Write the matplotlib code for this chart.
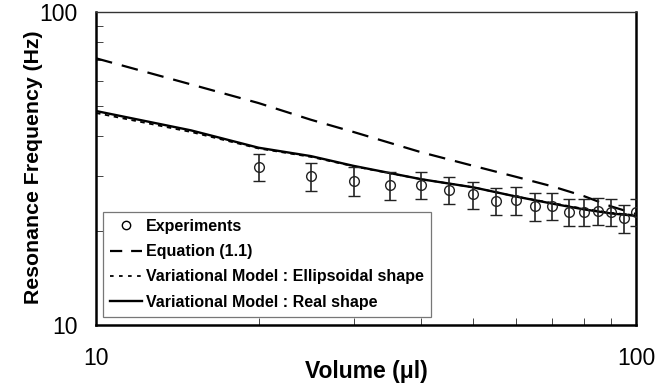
import matplotlib
matplotlib.use("Agg")
import matplotlib.pyplot as plt
from matplotlib.lines import Line2D
from matplotlib.ticker import NullFormatter, LogLocator

plt.rcParams['font.family'] = ['Liberation Sans', 'DejaVu Sans']

# Experimental data
exp_volume = [20, 25, 30, 35, 40, 45, 50, 55, 60, 65, 70, 75, 80, 85, 90, 95, 100]
exp_freq = [32.0, 29.9, 28.9, 27.9, 28.0, 27.0, 26.1, 24.9, 25.0, 23.9, 24.0,
            22.95, 23.0, 23.1, 22.95, 21.96, 23.0]
exp_err = [3.2, 3.1, 3.0, 2.8, 2.8, 2.7, 2.6, 2.5, 2.5, 2.4, 2.4, 2.3, 2.3,
           2.3, 2.3, 2.25, 2.3]

# Model curves
model_volume = [10, 15, 20, 25, 30, 40, 50, 60, 70, 80, 90, 100]
eq_freq = [71.0, 58.6, 51.1, 45.2, 41.3, 35.6, 32.2, 29.7, 27.7, 25.8, 23.9, 22.6]
ellip_freq = [47.5, 41.3, 36.6, 34.4, 32.1, 29.2, 27.5, 25.7, 24.5, 23.5, 22.8, 22.4]
real_freq = [48.2, 41.8, 36.8, 34.6, 32.2, 29.2, 27.5, 25.7, 24.4, 23.4, 22.7, 22.3]

labels = ['Experiments', 'Equation (1.1)',
          'Variational Model : Ellipsoidal shape', 'Variational Model : Real shape']

fig = plt.figure(figsize=(6.71, 3.88), dpi=100)
ax = fig.add_axes([96/671, 1-325/388, 540/671, 313.3/388])

ax.errorbar(exp_volume, exp_freq, yerr=exp_err, fmt='o', ms=7, mfc='none',
            mec='#222222', mew=1.0, ecolor='#222222', elinewidth=1.2,
            capsize=4, capthick=1.0, zorder=3)
ax.plot(model_volume, eq_freq, color='black', lw=1.6, dashes=(7.5, 4.5), zorder=2)
ax.plot(model_volume, ellip_freq, color='black', lw=1.3, dashes=(2.5, 2.5), zorder=2)
ax.plot(model_volume, real_freq, color='black', lw=1.7, zorder=2)

ax.set_xscale('log')
ax.set_yscale('log')
ax.set_xlim(10, 100)
ax.set_ylim(10, 100)

ax.set_xticks([10, 100])
ax.set_xticklabels(['10', '100'])
ax.set_yticks([10, 100])
ax.set_yticklabels(['10', '100'])
ax.xaxis.set_minor_locator(LogLocator(base=10, subs=range(2, 10)))
ax.yaxis.set_minor_locator(LogLocator(base=10, subs=range(2, 10)))
ax.xaxis.set_minor_formatter(NullFormatter())
ax.yaxis.set_minor_formatter(NullFormatter())

ax.tick_params(axis='both', which='major', length=0, labelsize=16.5)
ax.tick_params(axis='x', which='major', pad=16)
ax.tick_params(axis='y', which='major', pad=13)
ax.tick_params(axis='both', which='minor', direction='in', length=5, width=0.7,
               color='#444444')
ax.tick_params(top=False, right=False, which='both')

for side in ['left', 'bottom', 'right']:
    ax.spines[side].set_linewidth(1.8)
ax.spines['top'].set_linewidth(1.0)
ax.spines['top'].set_color('#333333')

ax.set_xlabel('Volume (μl)', fontsize=16.5, fontweight='bold')
ax.set_ylabel('Resonance Frequency (Hz)', fontsize=15.3, fontweight='bold')
ax.xaxis.set_label_coords(0.5, -0.112)
ax.yaxis.set_label_coords(-0.098, 0.505)

handles = [
    Line2D([], [], marker='o', ls='none', ms=6, mfc='none', mec='black', mew=1.0),
    Line2D([], [], color='black', lw=1.6, dashes=(5.5, 4.0)),
    Line2D([], [], color='black', lw=1.3, dashes=(2.0, 3.0)),
    Line2D([], [], color='black', lw=1.7),
]
leg = ax.legend(handles, labels, loc='lower left', bbox_to_anchor=(0.013, 0.026),
                borderaxespad=0, fancybox=False, framealpha=1, edgecolor='#777777',
                prop={'weight': 'bold', 'size': 11.5}, handlelength=2.0,
                handletextpad=0.25, labelspacing=0.64, borderpad=0.45)
leg.get_frame().set_linewidth(0.9)

fig.savefig('out.png', dpi=100)
